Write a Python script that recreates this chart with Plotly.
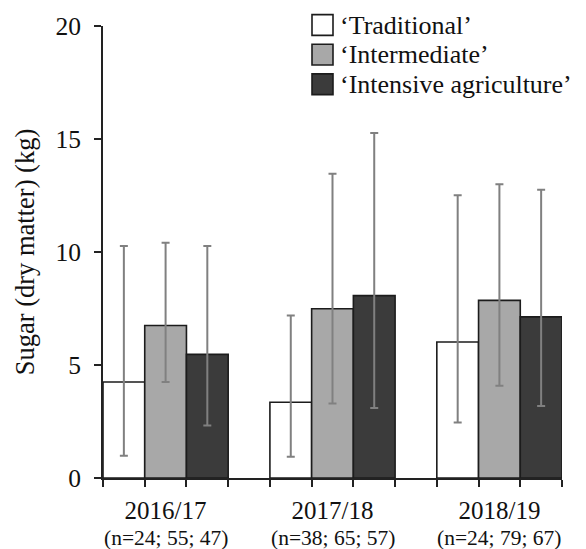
import plotly.graph_objects as go

# ---- data ----
years = ["2016/17", "2017/18", "2018/19"]
n_labels = ["(n=24; 55; 47)", "(n=38; 65; 57)", "(n=24; 79; 67)"]
series = ["\u2018Traditional\u2019", "\u2018Intermediate\u2019", "\u2018Intensive agriculture\u2019"]
means_trad = [4.25, 3.35, 6.02]
means_inter = [6.75, 7.49, 7.86]
means_int = [5.47, 8.07, 7.13]
upper_trad = [10.26, 7.19, 12.51]
upper_inter = [10.41, 13.46, 13.00]
upper_int = [10.26, 15.26, 12.75]
lower_trad = [0.98, 0.94, 2.46]
lower_inter = [4.25, 3.30, 4.08]
lower_int = [2.32, 3.10, 3.19]
y_ticks = [0, 5, 10, 15, 20]

# ---- style ----
colors = ["#ffffff", "#a8a8a8", "#3b3b3b"]
FONT = "Liberation Serif"
W, H = 586, 549
ML, MR, MT, MB = 103, 24, 20, 71
PW, PH = W - ML - MR, H - MT - MB
bargap = 0.25
half = (1 - bargap) / 2

def px_x(p):
    return (p - ML) / PW

def px_y(p):
    return (H - MB - p) / PH

xs = list(range(len(years)))
means = [means_trad, means_inter, means_int]
uppers = [upper_trad, upper_inter, upper_int]
lowers = [lower_trad, lower_inter, lower_int]

fig = go.Figure()
for name, c, m, u, lo in zip(series, colors, means, uppers, lowers):
    fig.add_trace(go.Bar(
        x=xs, y=m, name=name,
        marker=dict(color=c, line=dict(color="#1c1c1c", width=1.6)),
        error_y=dict(type="data", symmetric=False,
                     array=[a - b for a, b in zip(u, m)],
                     arrayminus=[b - a for a, b in zip(lo, m)],
                     color="#808080", thickness=2, width=4),
        showlegend=False,
    ))

# custom legend (large square patches)
row_px = [19, 49, 79]
for name, c, r in zip(series, colors, row_px):
    fig.add_shape(type="rect", xref="paper", yref="paper",
                  x0=px_x(312), x1=px_x(333), y0=px_y(r + 10.5), y1=px_y(r - 10.5),
                  fillcolor=c, line=dict(color="#1c1c1c", width=1.6))
    fig.add_annotation(xref="paper", yref="paper", x=px_x(338), y=px_y(r),
                       xanchor="left", yanchor="middle", text=name, showarrow=False,
                       font=dict(family=FONT, size=26, color="#111111"))

# sample-size lines under category labels
for x, t in zip(xs, n_labels):
    fig.add_annotation(xref="x", yref="paper", x=x, y=px_y(538.5),
                       xanchor="center", yanchor="middle", text=t, showarrow=False,
                       font=dict(family=FONT, size=21.5, color="#111111"))

fig.update_layout(
    width=W, height=H,
    margin=dict(l=ML, r=MR, t=MT, b=MB),
    plot_bgcolor="white", paper_bgcolor="white",
    barmode="group", bargap=bargap, bargroupgap=0,
    font=dict(family=FONT, color="#111111"),
)
fig.update_xaxes(
    range=[-half, len(years) - 1 + half],
    tickmode="array", tickvals=xs, ticktext=years,
    ticks="", tickfont=dict(family=FONT, size=25, color="#111111"),
    ticklabelstandoff=9,
    showline=True, linecolor="#222222", linewidth=1.6,
    showgrid=False, zeroline=False,
    minor=dict(tickmode="linear", tick0=-half, dtick=(1 - bargap) / 3,
               ticks="outside", ticklen=7, tickcolor="#222222", tickwidth=1.6,
               showgrid=False),
)
fig.update_yaxes(
    range=[0, 20], tickmode="array", tickvals=y_ticks,
    ticks="outside", ticklen=7, tickcolor="#222222", tickwidth=1.6,
    tickfont=dict(family=FONT, size=25.5, color="#111111"),
    ticklabelstandoff=8,
    showline=True, linecolor="#222222", linewidth=1.6,
    showgrid=False, zeroline=False,
    title=dict(text="Sugar (dry matter) (kg)", standoff=13,
               font=dict(family=FONT, size=26.5, color="#111111")),
)

fig.write_html("out.html", config={"displayModeBar": False},
               post_script="document.body.style.margin='0';document.body.style.padding='0';")
